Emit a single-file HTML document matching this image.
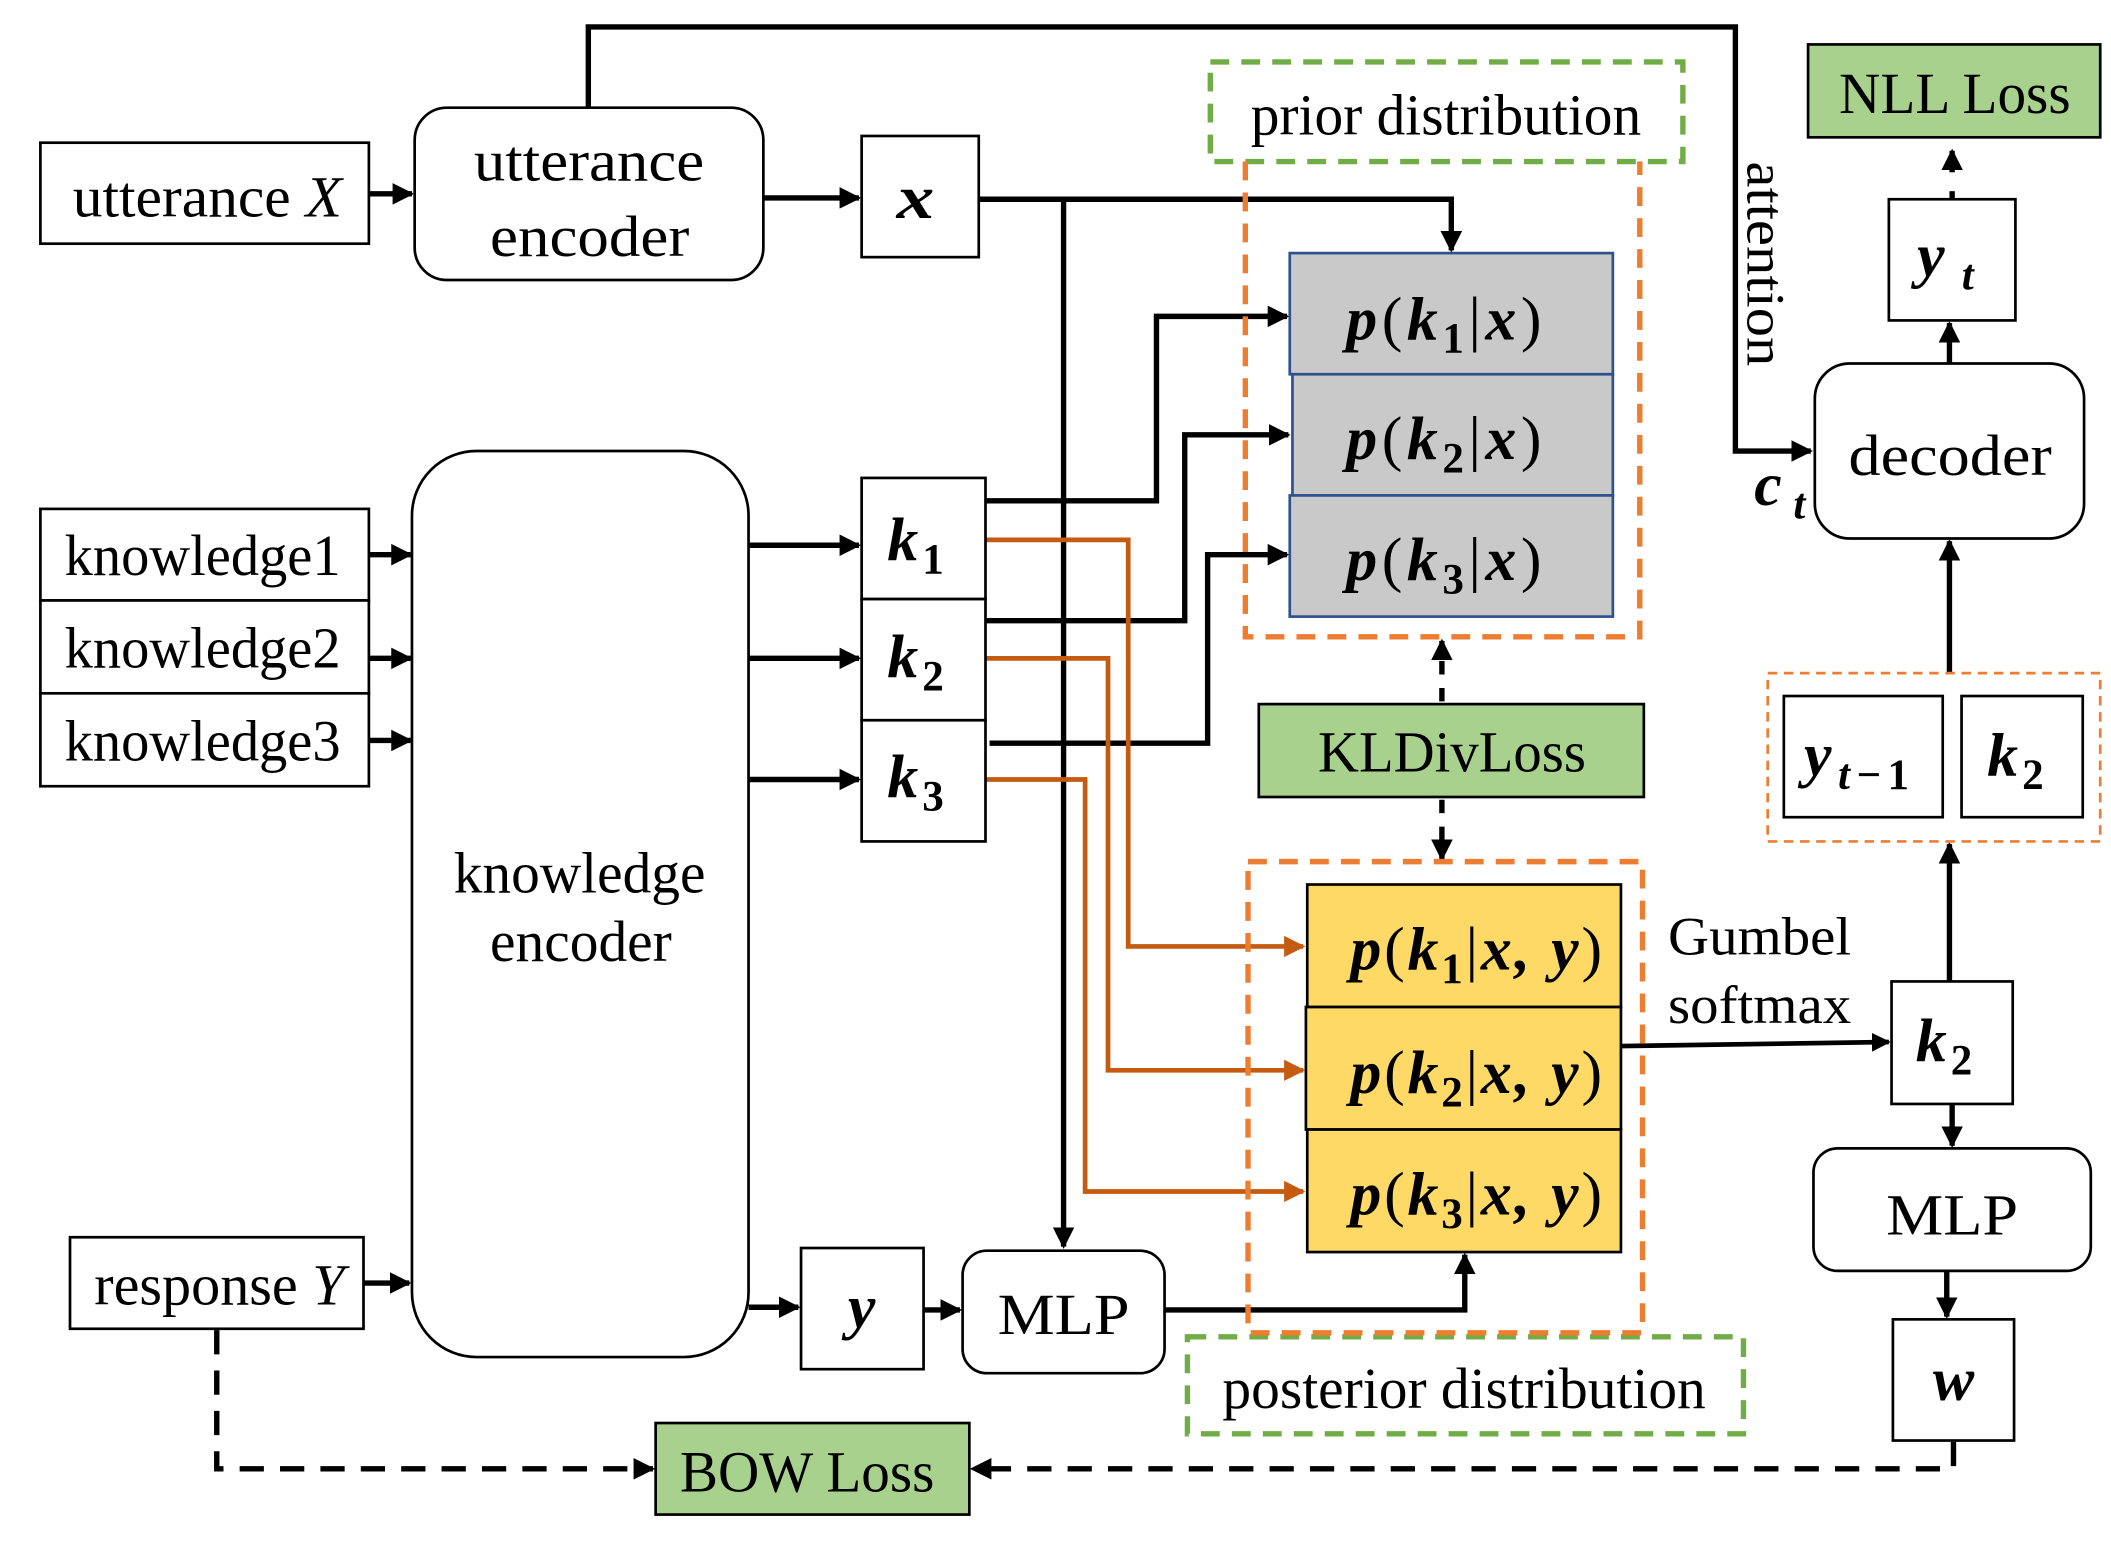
<!DOCTYPE html>
<html><head><meta charset="utf-8"><style>
html,body{margin:0;padding:0;background:#fff;}
svg{display:block;}
text{font-family:"Liberation Serif",serif;fill:#000;}
.m{font-weight:bold;font-style:italic;}
.r{font-style:normal;}
</style></head><body>
<svg width="2111" height="1545" viewBox="0 0 1568 1147.6" preserveAspectRatio="none" xmlns="http://www.w3.org/2000/svg">
<defs>
<marker id="a" viewBox="0 0 10 10" refX="9" refY="5" markerWidth="4" markerHeight="4" orient="auto-start-reverse" markerUnits="strokeWidth"><path d="M0,0L10,5L0,10z" fill="#000"/></marker>
<marker id="o" viewBox="0 0 10 10" refX="9" refY="5" markerWidth="4.5" markerHeight="4.5" orient="auto" markerUnits="strokeWidth"><path d="M0,0L10,5L0,10z" fill="#c55a11"/></marker>
</defs>
<g fill="none" stroke="#000" stroke-width="4">
<polyline points="437,80 437,20 1289,20 1289,335 1345,335" marker-end="url(#a)"/>
<line x1="274" y1="144" x2="306" y2="144" marker-end="url(#a)"/>
<line x1="567" y1="147" x2="638" y2="147" marker-end="url(#a)"/>
<polyline points="727,148 1078,148 1078,186" marker-end="url(#a)"/>
<line x1="790" y1="148" x2="790" y2="926" marker-end="url(#a)"/>
<line x1="274" y1="412" x2="305" y2="412" marker-end="url(#a)"/>
<line x1="274" y1="489" x2="305" y2="489" marker-end="url(#a)"/>
<line x1="274" y1="550" x2="305" y2="550" marker-end="url(#a)"/>
<line x1="556" y1="405" x2="638" y2="405" marker-end="url(#a)"/>
<line x1="556" y1="489" x2="638" y2="489" marker-end="url(#a)"/>
<line x1="556" y1="579" x2="638" y2="579" marker-end="url(#a)"/>
<polyline points="732,372 859,372 859,235 956,235" marker-end="url(#a)"/>
<polyline points="732,461 880,461 880,323 957,323" marker-end="url(#a)"/>
<polyline points="735,552 897,552 897,412 956,412" marker-end="url(#a)"/>
<line x1="270" y1="953" x2="304" y2="953" marker-end="url(#a)"/>
<line x1="556" y1="971" x2="593" y2="971" marker-end="url(#a)"/>
<line x1="686" y1="973" x2="713" y2="973" marker-end="url(#a)"/>
<polyline points="865,973 1088,973 1088,932" marker-end="url(#a)"/>
<line x1="1204" y1="777" x2="1403" y2="774" stroke-width="3.5" marker-end="url(#a)"/>
<line x1="1450" y1="820" x2="1450" y2="851" marker-end="url(#a)"/>
<line x1="1446" y1="944" x2="1446" y2="978" marker-end="url(#a)"/>
<line x1="1448" y1="729" x2="1448" y2="627" marker-end="url(#a)"/>
<line x1="1448" y1="500" x2="1448" y2="402" marker-end="url(#a)"/>
<line x1="1448" y1="270" x2="1448" y2="240" marker-end="url(#a)"/>
<line x1="1450" y1="148" x2="1450" y2="142"/>
<line x1="1450" y1="128" x2="1450" y2="112" marker-end="url(#a)"/>
</g>
<g fill="none" stroke="#000" stroke-width="4" stroke-dasharray="18,12">
<polyline points="161,988 161,1091 485,1091" marker-end="url(#a)"/>
<polyline points="1451,1071 1451,1091 722,1091" marker-end="url(#a)"/>
<line x1="1071" y1="521" x2="1071" y2="476" stroke-dasharray="10,10" marker-end="url(#a)"/>
<line x1="1071" y1="594" x2="1071" y2="638" stroke-dasharray="10,10" marker-end="url(#a)"/>
</g>
<g fill="none" stroke="#c55a11" stroke-width="3.5">
<polyline points="732,401 838,401 838,703 968,703" marker-end="url(#o)"/>
<polyline points="732,489 823,489 823,795 968,795" marker-end="url(#o)"/>
<polyline points="732,579 806,579 806,885 968,885" marker-end="url(#o)"/>
</g>
<g stroke="#000" stroke-width="2" fill="#fff">
<rect x="30" y="106" width="244" height="75"/>
<rect x="308" y="80" width="259" height="128" rx="24"/>
<rect x="640" y="101" width="87" height="90"/>
<rect x="30" y="378" width="244" height="68"/>
<rect x="30" y="446" width="244" height="69"/>
<rect x="30" y="515" width="244" height="69"/>
<rect x="306" y="335" width="250" height="673" rx="48"/>
<rect x="640" y="355" width="92" height="90"/>
<rect x="640" y="445" width="92" height="90"/>
<rect x="640" y="535" width="92" height="90"/>
<rect x="52" y="919" width="218" height="68"/>
<rect x="595" y="927" width="91" height="90"/>
<rect x="715" y="929" width="150" height="91" rx="18"/>
<rect x="1405" y="729" width="90" height="91"/>
<rect x="1347" y="853" width="206" height="91" rx="18"/>
<rect x="1406" y="980" width="90" height="90"/>
<rect x="1325" y="517" width="118" height="90"/>
<rect x="1457" y="517" width="90" height="90"/>
<rect x="1348" y="270" width="200" height="130" rx="26"/>
<rect x="1403" y="148" width="94" height="90"/>
</g>
<g stroke="#2f528f" stroke-width="2" fill="#c9c9c9">
<rect x="958" y="188" width="240" height="90"/>
<rect x="960" y="278" width="238" height="90"/>
<rect x="958" y="368" width="240" height="90"/>
</g>
<g stroke="#000" stroke-width="2" fill="#ffd966">
<rect x="971" y="657" width="233" height="91"/>
<rect x="970" y="748" width="234" height="91"/>
<rect x="971" y="839" width="233" height="91"/>
</g>
<g stroke="#000" stroke-width="2" fill="#a9d18e">
<rect x="935" y="523" width="286" height="69"/>
<rect x="487" y="1057" width="233" height="68"/>
<rect x="1343" y="33" width="217" height="69"/>
</g>
<g fill="none" stroke-width="4" stroke-dasharray="14,9">
<rect x="899" y="46" width="351" height="74" stroke="#70ad47"/>
<rect x="882" y="993" width="413" height="72" stroke="#70ad47"/>
<polyline points="925,120 925,473 1218,473 1218,120" stroke="#ed7d31"/>
<rect x="927" y="640" width="293" height="350" stroke="#ed7d31"/>
</g>
<rect x="1313" y="500" width="247" height="125" fill="none" stroke="#ed7d31" stroke-width="2" stroke-dasharray="7,5"/>
<g font-size="43">
<text x="54" y="161" textLength="200" lengthAdjust="spacingAndGlyphs">utterance <tspan font-style="italic">X</tspan></text>
<text x="352" y="134" textLength="171" lengthAdjust="spacingAndGlyphs">utterance</text>
<text x="364" y="190" textLength="148" lengthAdjust="spacingAndGlyphs">encoder</text>
<text x="48" y="427" textLength="205" lengthAdjust="spacingAndGlyphs">knowledge1</text>
<text x="48" y="496" textLength="205" lengthAdjust="spacingAndGlyphs">knowledge2</text>
<text x="48" y="565" textLength="205" lengthAdjust="spacingAndGlyphs">knowledge3</text>
<text x="337" y="663" textLength="187" lengthAdjust="spacingAndGlyphs">knowledge</text>
<text x="364" y="714" textLength="135" lengthAdjust="spacingAndGlyphs">encoder</text>
<text x="70" y="969" textLength="186" lengthAdjust="spacingAndGlyphs">response <tspan font-style="italic">Y</tspan></text>
<text x="741" y="991" textLength="98" lengthAdjust="spacingAndGlyphs">MLP</text>
<text x="1401" y="917" textLength="98" lengthAdjust="spacingAndGlyphs">MLP</text>
<text x="1373" y="353" textLength="151" lengthAdjust="spacingAndGlyphs">decoder</text>
<text x="929" y="100" textLength="290" lengthAdjust="spacingAndGlyphs">prior distribution</text>
<text x="908" y="1046" textLength="359" lengthAdjust="spacingAndGlyphs">posterior distribution</text>
<text x="979" y="573" textLength="199" lengthAdjust="spacingAndGlyphs">KLDivLoss</text>
<text x="505" y="1108" textLength="189" lengthAdjust="spacingAndGlyphs">BOW Loss</text>
<text x="1366" y="84" textLength="172" lengthAdjust="spacingAndGlyphs">NLL Loss</text>
<text x="1239" y="709" font-size="40" textLength="136" lengthAdjust="spacingAndGlyphs">Gumbel</text>
<text x="1239" y="760" font-size="40" textLength="136" lengthAdjust="spacingAndGlyphs">softmax</text>
<text transform="translate(1298,120) rotate(90)" font-size="40" textLength="152" lengthAdjust="spacingAndGlyphs">attention</text>
</g>
<g font-size="46" class="m">
<text x="666" y="162" textLength="28" lengthAdjust="spacingAndGlyphs">x</text>
<text x="659" y="416" textLength="42" lengthAdjust="spacing">k<tspan font-size="32" dy="10" class="r">1</tspan></text>
<text x="659" y="503" textLength="42" lengthAdjust="spacing">k<tspan font-size="32" dy="10" class="r">2</tspan></text>
<text x="659" y="592" textLength="42" lengthAdjust="spacing">k<tspan font-size="32" dy="10" class="r">3</tspan></text>
<text x="640" y="986" text-anchor="middle">y</text>
<text x="1423" y="788" textLength="42" lengthAdjust="spacing">k<tspan font-size="32" dy="10" class="r">2</tspan></text>
<text x="1476" y="576" textLength="42" lengthAdjust="spacing">k<tspan font-size="32" dy="10" class="r">2</tspan></text>
<text x="1340" y="576" textLength="78" lengthAdjust="spacing">y<tspan font-size="32" dy="10">t</tspan><tspan font-size="32" class="r">−1</tspan></text>
<text x="1424" y="205" textLength="42" lengthAdjust="spacing">y<tspan font-size="32" dy="10">t</tspan></text>
<text x="1451" y="1040" text-anchor="middle">w</text>
<text x="1303" y="375" textLength="38" lengthAdjust="spacing">c<tspan font-size="32" dy="10">t</tspan></text>
<text x="1000" y="252" textLength="145" lengthAdjust="spacing">p<tspan class="r" font-weight="normal">(</tspan>k<tspan font-size="32" dy="10" class="r">1</tspan><tspan dy="-10" class="r" font-weight="normal">|</tspan>x<tspan class="r" font-weight="normal">)</tspan></text>
<text x="1000" y="341" textLength="145" lengthAdjust="spacing">p<tspan class="r" font-weight="normal">(</tspan>k<tspan font-size="32" dy="10" class="r">2</tspan><tspan dy="-10" class="r" font-weight="normal">|</tspan>x<tspan class="r" font-weight="normal">)</tspan></text>
<text x="1000" y="431" textLength="145" lengthAdjust="spacing">p<tspan class="r" font-weight="normal">(</tspan>k<tspan font-size="32" dy="10" class="r">3</tspan><tspan dy="-10" class="r" font-weight="normal">|</tspan>x<tspan class="r" font-weight="normal">)</tspan></text>
<text x="1003" y="720" textLength="187" lengthAdjust="spacing">p<tspan class="r" font-weight="normal">(</tspan>k<tspan font-size="32" dy="10" class="r">1</tspan><tspan dy="-10" class="r" font-weight="normal">|</tspan>x, y<tspan class="r" font-weight="normal">)</tspan></text>
<text x="1003" y="812" textLength="187" lengthAdjust="spacing">p<tspan class="r" font-weight="normal">(</tspan>k<tspan font-size="32" dy="10" class="r">2</tspan><tspan dy="-10" class="r" font-weight="normal">|</tspan>x, y<tspan class="r" font-weight="normal">)</tspan></text>
<text x="1003" y="902" textLength="187" lengthAdjust="spacing">p<tspan class="r" font-weight="normal">(</tspan>k<tspan font-size="32" dy="10" class="r">3</tspan><tspan dy="-10" class="r" font-weight="normal">|</tspan>x, y<tspan class="r" font-weight="normal">)</tspan></text>
</g>
</svg>
</body></html>
